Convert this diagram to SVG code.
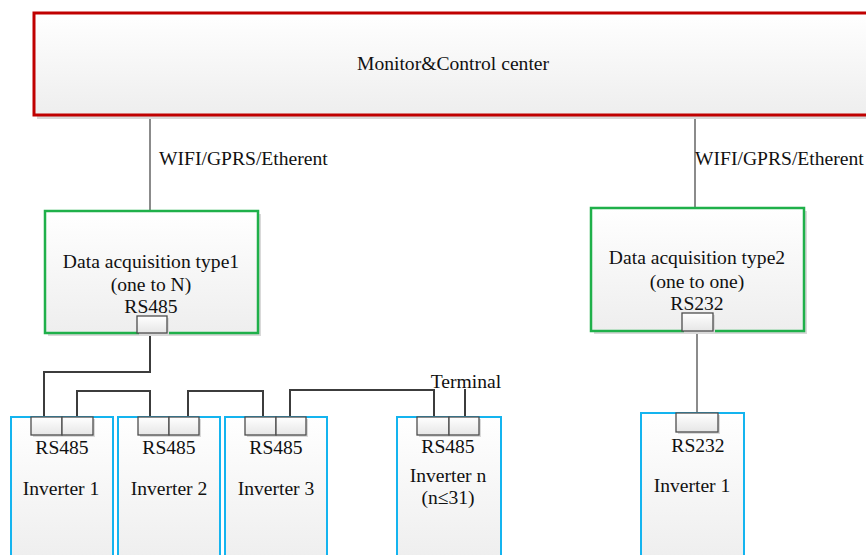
<svg xmlns="http://www.w3.org/2000/svg" width="866" height="555" viewBox="0 0 866 555">
  <defs>
    <linearGradient id="boxFill" x1="0" y1="0" x2="0" y2="1">
      <stop offset="0" stop-color="#ffffff"/>
      <stop offset="1" stop-color="#eeeeee"/>
    </linearGradient>
    <linearGradient id="portFill" x1="0" y1="0" x2="0" y2="1">
      <stop offset="0" stop-color="#ffffff"/>
      <stop offset="1" stop-color="#e6e6e6"/>
    </linearGradient>
  </defs>
  <style>
    text { font-family: "Liberation Serif", "Noto Sans CJK SC", serif; font-size: 19.6px; fill: #111; text-anchor: middle; }
    text.start { text-anchor: start; }
    .shadow { fill: #d9d9d9; }
    .center { fill: url(#boxFill); stroke: #c00000; stroke-width: 3; }
    .dau { fill: url(#boxFill); stroke: #1fb04a; stroke-width: 2.5; }
    .inv { fill: url(#boxFill); stroke: #14b4ef; stroke-width: 2; }
    .port { fill: url(#portFill); stroke: #4d4d4d; stroke-width: 1.3; }
    .bus { fill: none; stroke: #3c3c3c; stroke-width: 2; }
    .uplink { fill: none; stroke: #6e6e6e; stroke-width: 1.6; }
  </style>

  <!-- wiring -->
  <g id="connectors">
    <path class="uplink" d="M150 115 V211"/>
    <path class="uplink" d="M695 115 V208"/>
    <path class="bus" d="M150 333 V372 H44 V417"/>
    <path class="bus" d="M77 417 V391 H150 V417"/>
    <path class="bus" d="M188 417 V391 H263 V417"/>
    <path class="bus" d="M290 417 V390 H434 V417"/>
    <path class="bus" d="M465 417 V389"/>
    <path class="uplink" d="M697 331 V413"/>
  </g>

  <g id="monitor-center">
    <rect class="shadow" x="37" y="16" width="835" height="103"/>
    <rect class="center" x="34" y="13" width="840" height="102"/>
    <text x="453" y="70">Monitor&amp;Control center</text>
  </g>

  <g id="link-labels">
    <text class="start" x="159" y="165">WIFI/GPRS/Etherent</text>
    <text class="start" x="695" y="165">WIFI/GPRS/Etherent</text>
    <text x="466" y="388">Terminal</text>
  </g>

  <g id="dau-type1">
    <rect class="shadow" x="48" y="214" width="213" height="122"/>
    <rect class="dau" x="45" y="211" width="213" height="122"/>
    <text x="151" y="268">Data acquisition type1</text>
    <text x="151" y="291">(one to N)</text>
    <text x="151" y="313">RS485</text>
    <rect class="shadow" x="139" y="318" width="30" height="17"/>
    <rect class="port" x="137" y="316" width="30" height="17"/>
  </g>

  <g id="dau-type2">
    <rect class="shadow" x="594" y="211" width="213" height="123"/>
    <rect class="dau" x="591" y="208" width="213" height="123"/>
    <text x="697" y="264">Data acquisition type2</text>
    <text x="697" y="288">(one to one)</text>
    <text x="697" y="310">RS232</text>
    <rect class="shadow" x="684" y="315" width="31" height="18"/>
    <rect class="port" x="682" y="313" width="31" height="18"/>
  </g>

  <g id="inverter-1">
    <rect class="inv" x="11" y="417" width="102" height="145"/>
    <rect class="shadow" x="33" y="419" width="62" height="18"/>
    <rect class="port" x="31" y="417" width="31" height="18"/>
    <rect class="port" x="62" y="417" width="31" height="18"/>
    <text x="62" y="454">RS485</text>
    <text x="61" y="495">Inverter 1</text>
  </g>

  <g id="inverter-2">
    <rect class="inv" x="118" y="417" width="102" height="145"/>
    <rect class="shadow" x="140" y="419" width="61" height="18"/>
    <rect class="port" x="138" y="417" width="31" height="18"/>
    <rect class="port" x="169" y="417" width="30" height="18"/>
    <text x="169" y="454">RS485</text>
    <text x="169" y="495">Inverter 2</text>
  </g>

  <g id="inverter-3">
    <rect class="inv" x="225" y="417" width="102" height="145"/>
    <rect class="shadow" x="247" y="419" width="61" height="18"/>
    <rect class="port" x="245" y="417" width="31" height="18"/>
    <rect class="port" x="276" y="417" width="30" height="18"/>
    <text x="276" y="454">RS485</text>
    <text x="276" y="495">Inverter 3</text>
  </g>

  <g id="inverter-n">
    <rect class="inv" x="397" y="417" width="104" height="145"/>
    <rect class="shadow" x="419" y="419" width="62" height="18"/>
    <rect class="port" x="417" y="417" width="32" height="18"/>
    <rect class="port" x="449" y="417" width="30" height="18"/>
    <text x="448" y="453">RS485</text>
    <text x="448" y="482">Inverter n</text>
    <text x="448" y="504">(n≤31)</text>
  </g>

  <g id="inverter-rs232">
    <rect class="inv" x="641" y="413" width="103" height="149"/>
    <rect class="shadow" x="678" y="415" width="42" height="19"/>
    <rect class="port" x="676" y="413" width="42" height="19"/>
    <text x="698" y="452">RS232</text>
    <text x="692" y="492">Inverter 1</text>
  </g>
</svg>
